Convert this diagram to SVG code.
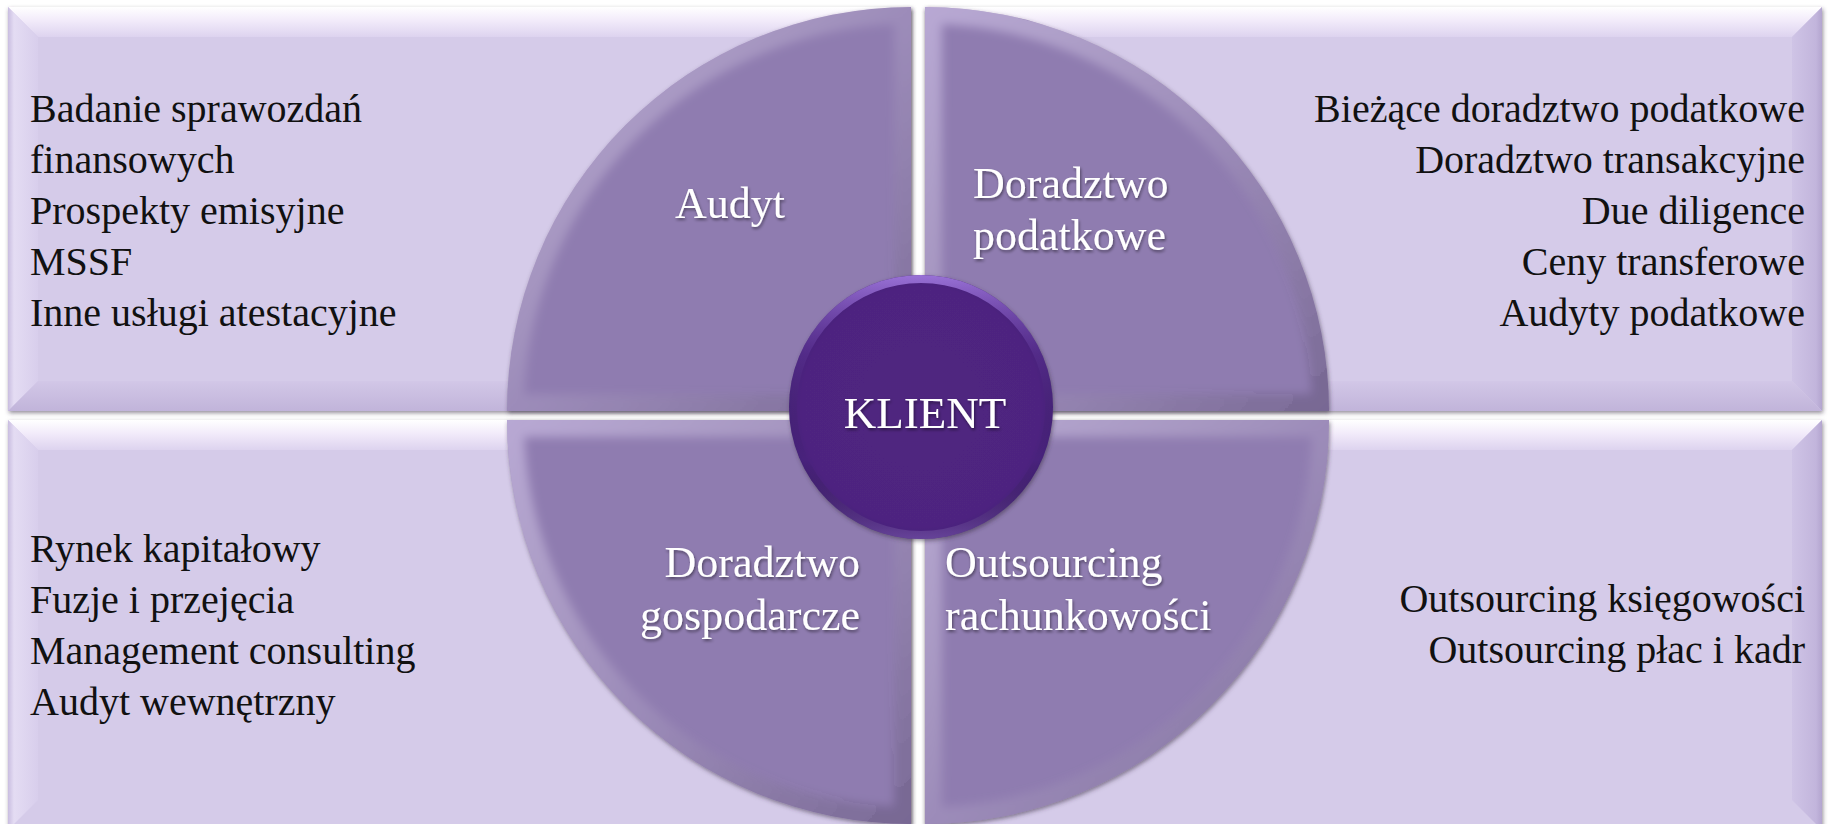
<svg xmlns="http://www.w3.org/2000/svg" width="1828" height="824" viewBox="0 0 1828 824">
<style>
.list{font-family:"Liberation Serif","Times New Roman",serif;font-size:40px;fill:#111}
.lbl{font-family:"Liberation Serif","Times New Roman",serif;font-size:44px;fill:#fff}
.base{fill:#D5CBE9}
.q{fill:#8F7BB0}
.bev{fill:none;stroke:url(#qBev);stroke-width:34}
</style>
<defs>
<filter id="sh" x="-5%" y="-5%" width="110%" height="110%">
<feDropShadow dx="1" dy="2" stdDeviation="2" flood-color="#3a3344" flood-opacity="0.55"/>
</filter>
<filter id="tsh" x="-10%" y="-20%" width="120%" height="150%">
<feDropShadow dx="1" dy="2" stdDeviation="1.5" flood-color="#000" flood-opacity="0.45"/>
</filter>
<filter id="soft" x="-5%" y="-5%" width="110%" height="110%"><feGaussianBlur stdDeviation="5"/></filter>
<linearGradient id="gTop" x1="0" y1="0" x2="0" y2="1"><stop offset="0" stop-color="#FFFFFF"/><stop offset="0.45" stop-color="#F2EBFA"/><stop offset="1" stop-color="#DDD3EF"/></linearGradient>
<linearGradient id="gLeft" x1="0" y1="0" x2="1" y2="0"><stop offset="0" stop-color="#C9BDE0"/><stop offset="0.2" stop-color="#E4DCF3"/><stop offset="1" stop-color="#D8CEEC"/></linearGradient>
<linearGradient id="gRight" x1="0" y1="0" x2="1" y2="0"><stop offset="0" stop-color="#CFC4E6"/><stop offset="0.8" stop-color="#C2B5DC"/><stop offset="1" stop-color="#B3A5CF"/></linearGradient>
<linearGradient id="gBot" x1="0" y1="0" x2="0" y2="1"><stop offset="0" stop-color="#D2C7E7"/><stop offset="1" stop-color="#C1B4DA"/></linearGradient>
<linearGradient id="qBev" x1="0" y1="0" x2="1" y2="1"><stop offset="0" stop-color="#E9DDFF" stop-opacity="0.45"/><stop offset="0.5" stop-color="#fff" stop-opacity="0.12"/><stop offset="1" stop-color="#000" stop-opacity="0.16"/></linearGradient>
<radialGradient id="cFill" cx="0.5" cy="0.5" r="0.5"><stop offset="0" stop-color="#50267F"/><stop offset="0.9" stop-color="#4E2480"/><stop offset="1" stop-color="#46207A"/></radialGradient>
<linearGradient id="cRim" x1="0" y1="0" x2="0" y2="1"><stop offset="0" stop-color="#A27AE0" stop-opacity="0.9"/><stop offset="0.3" stop-color="#7A50B8" stop-opacity="0.2"/><stop offset="0.7" stop-color="#000" stop-opacity="0"/><stop offset="1" stop-color="#8C6BBE" stop-opacity="0.45"/></linearGradient>
<clipPath id="cTL"><path d="M911,411 L507,411 A404,404 0 0 1 911,7 Z"/></clipPath>
<clipPath id="cTR"><path d="M925,411 L925,7 A404,404 0 0 1 1329,411 Z"/></clipPath>
<clipPath id="cBL"><path d="M911,420 L911,824 A404,404 0 0 1 507,420 Z"/></clipPath>
<clipPath id="cBR"><path d="M925,420 L1329,420 A404,404 0 0 1 925,824 Z"/></clipPath>
<clipPath id="cC"><circle cx="921" cy="407" r="132"/></clipPath>
</defs>
<rect width="1828" height="824" fill="#fff"/>

<g id="panel-tl">
<g filter="url(#sh)"><rect class="base" x="8" y="7" width="903" height="404"/></g>
<polygon points="8,7 911,7 881,37 38,37" fill="url(#gTop)"/>
<polygon points="8,7 38,37 38,381 8,411" fill="url(#gLeft)"/>
<polygon points="911,7 911,411 881,381 881,37" fill="url(#gRight)"/>
<polygon points="8,411 911,411 881,381 38,381" fill="url(#gBot)"/>
</g>
<g id="panel-tr">
<g filter="url(#sh)"><rect class="base" x="925" y="7" width="897" height="404"/></g>
<polygon points="925,7 1822,7 1792,37 955,37" fill="url(#gTop)"/>
<polygon points="925,7 955,37 955,381 925,411" fill="url(#gLeft)"/>
<polygon points="1822,7 1822,411 1792,381 1792,37" fill="url(#gRight)"/>
<polygon points="925,411 1822,411 1792,381 955,381" fill="url(#gBot)"/>
</g>
<g id="panel-bl">
<g filter="url(#sh)"><rect class="base" x="8" y="420" width="903" height="410"/></g>
<polygon points="8,420 911,420 881,450 38,450" fill="url(#gTop)"/>
<polygon points="8,420 38,450 38,800 8,830" fill="url(#gLeft)"/>
<polygon points="911,420 911,830 881,800 881,450" fill="url(#gRight)"/>
</g>
<g id="panel-br">
<g filter="url(#sh)"><rect class="base" x="925" y="420" width="897" height="410"/></g>
<polygon points="925,420 1822,420 1792,450 955,450" fill="url(#gTop)"/>
<polygon points="925,420 955,450 955,800 925,830" fill="url(#gLeft)"/>
<polygon points="1822,420 1822,830 1792,800 1792,450" fill="url(#gRight)"/>
</g>

<g id="q-audyt">
<path class="q" filter="url(#sh)" d="M911,411 L507,411 A404,404 0 0 1 911,7 Z"/>
<g clip-path="url(#cTL)"><path class="bev" filter="url(#soft)" d="M911,411 L507,411 A404,404 0 0 1 911,7 Z"/></g>
<text class="lbl" x="730" y="218" text-anchor="middle" filter="url(#tsh)">Audyt</text>
</g>
<g id="q-podatkowe">
<path class="q" filter="url(#sh)" d="M925,411 L925,7 A404,404 0 0 1 1329,411 Z"/>
<g clip-path="url(#cTR)"><path class="bev" filter="url(#soft)" d="M925,411 L925,7 A404,404 0 0 1 1329,411 Z"/></g>
<text class="lbl" x="973" y="198" filter="url(#tsh)">Doradztwo</text>
<text class="lbl" x="973" y="250" filter="url(#tsh)">podatkowe</text>
</g>
<g id="q-gospodarcze">
<path class="q" filter="url(#sh)" d="M911,420 L911,824 A404,404 0 0 1 507,420 Z"/>
<g clip-path="url(#cBL)"><path class="bev" filter="url(#soft)" d="M911,420 L911,824 A404,404 0 0 1 507,420 Z"/></g>
<text class="lbl" x="860" y="577" text-anchor="end" filter="url(#tsh)">Doradztwo</text>
<text class="lbl" x="860" y="630" text-anchor="end" filter="url(#tsh)">gospodarcze</text>
</g>
<g id="q-outsourcing">
<path class="q" filter="url(#sh)" d="M925,420 L1329,420 A404,404 0 0 1 925,824 Z"/>
<g clip-path="url(#cBR)"><path class="bev" filter="url(#soft)" d="M925,420 L1329,420 A404,404 0 0 1 925,824 Z"/></g>
<text class="lbl" x="945" y="577" filter="url(#tsh)">Outsourcing</text>
<text class="lbl" x="945" y="630" filter="url(#tsh)">rachunkowości</text>
</g>

<g id="klient">
<circle cx="921" cy="407" r="132" fill="url(#cFill)" filter="url(#sh)"/>
<circle cx="921" cy="407" r="132" fill="none" stroke="url(#cRim)" stroke-width="16" clip-path="url(#cC)"/>
<text class="lbl" x="925" y="428" text-anchor="middle" style="font-size:45px" filter="url(#tsh)">KLIENT</text>
</g>

<g id="list-tl">
<text class="list" x="30" y="122">Badanie sprawozdań</text>
<text class="list" x="30" y="173">finansowych</text>
<text class="list" x="30" y="224">Prospekty emisyjne</text>
<text class="list" x="30" y="275">MSSF</text>
<text class="list" x="30" y="326">Inne usługi atestacyjne</text>
</g>
<g id="list-tr">
<text class="list" x="1805" y="122" text-anchor="end">Bieżące doradztwo podatkowe</text>
<text class="list" x="1805" y="173" text-anchor="end">Doradztwo transakcyjne</text>
<text class="list" x="1805" y="224" text-anchor="end">Due diligence</text>
<text class="list" x="1805" y="275" text-anchor="end">Ceny transferowe</text>
<text class="list" x="1805" y="326" text-anchor="end">Audyty podatkowe</text>
</g>
<g id="list-bl">
<text class="list" x="30" y="562">Rynek kapitałowy</text>
<text class="list" x="30" y="613">Fuzje i przejęcia</text>
<text class="list" x="30" y="664">Management consulting</text>
<text class="list" x="30" y="715">Audyt wewnętrzny</text>
</g>
<g id="list-br">
<text class="list" x="1805" y="612" text-anchor="end">Outsourcing księgowości</text>
<text class="list" x="1805" y="663" text-anchor="end">Outsourcing płac i kadr</text>
</g>
<g id="connectors"/>
</svg>
